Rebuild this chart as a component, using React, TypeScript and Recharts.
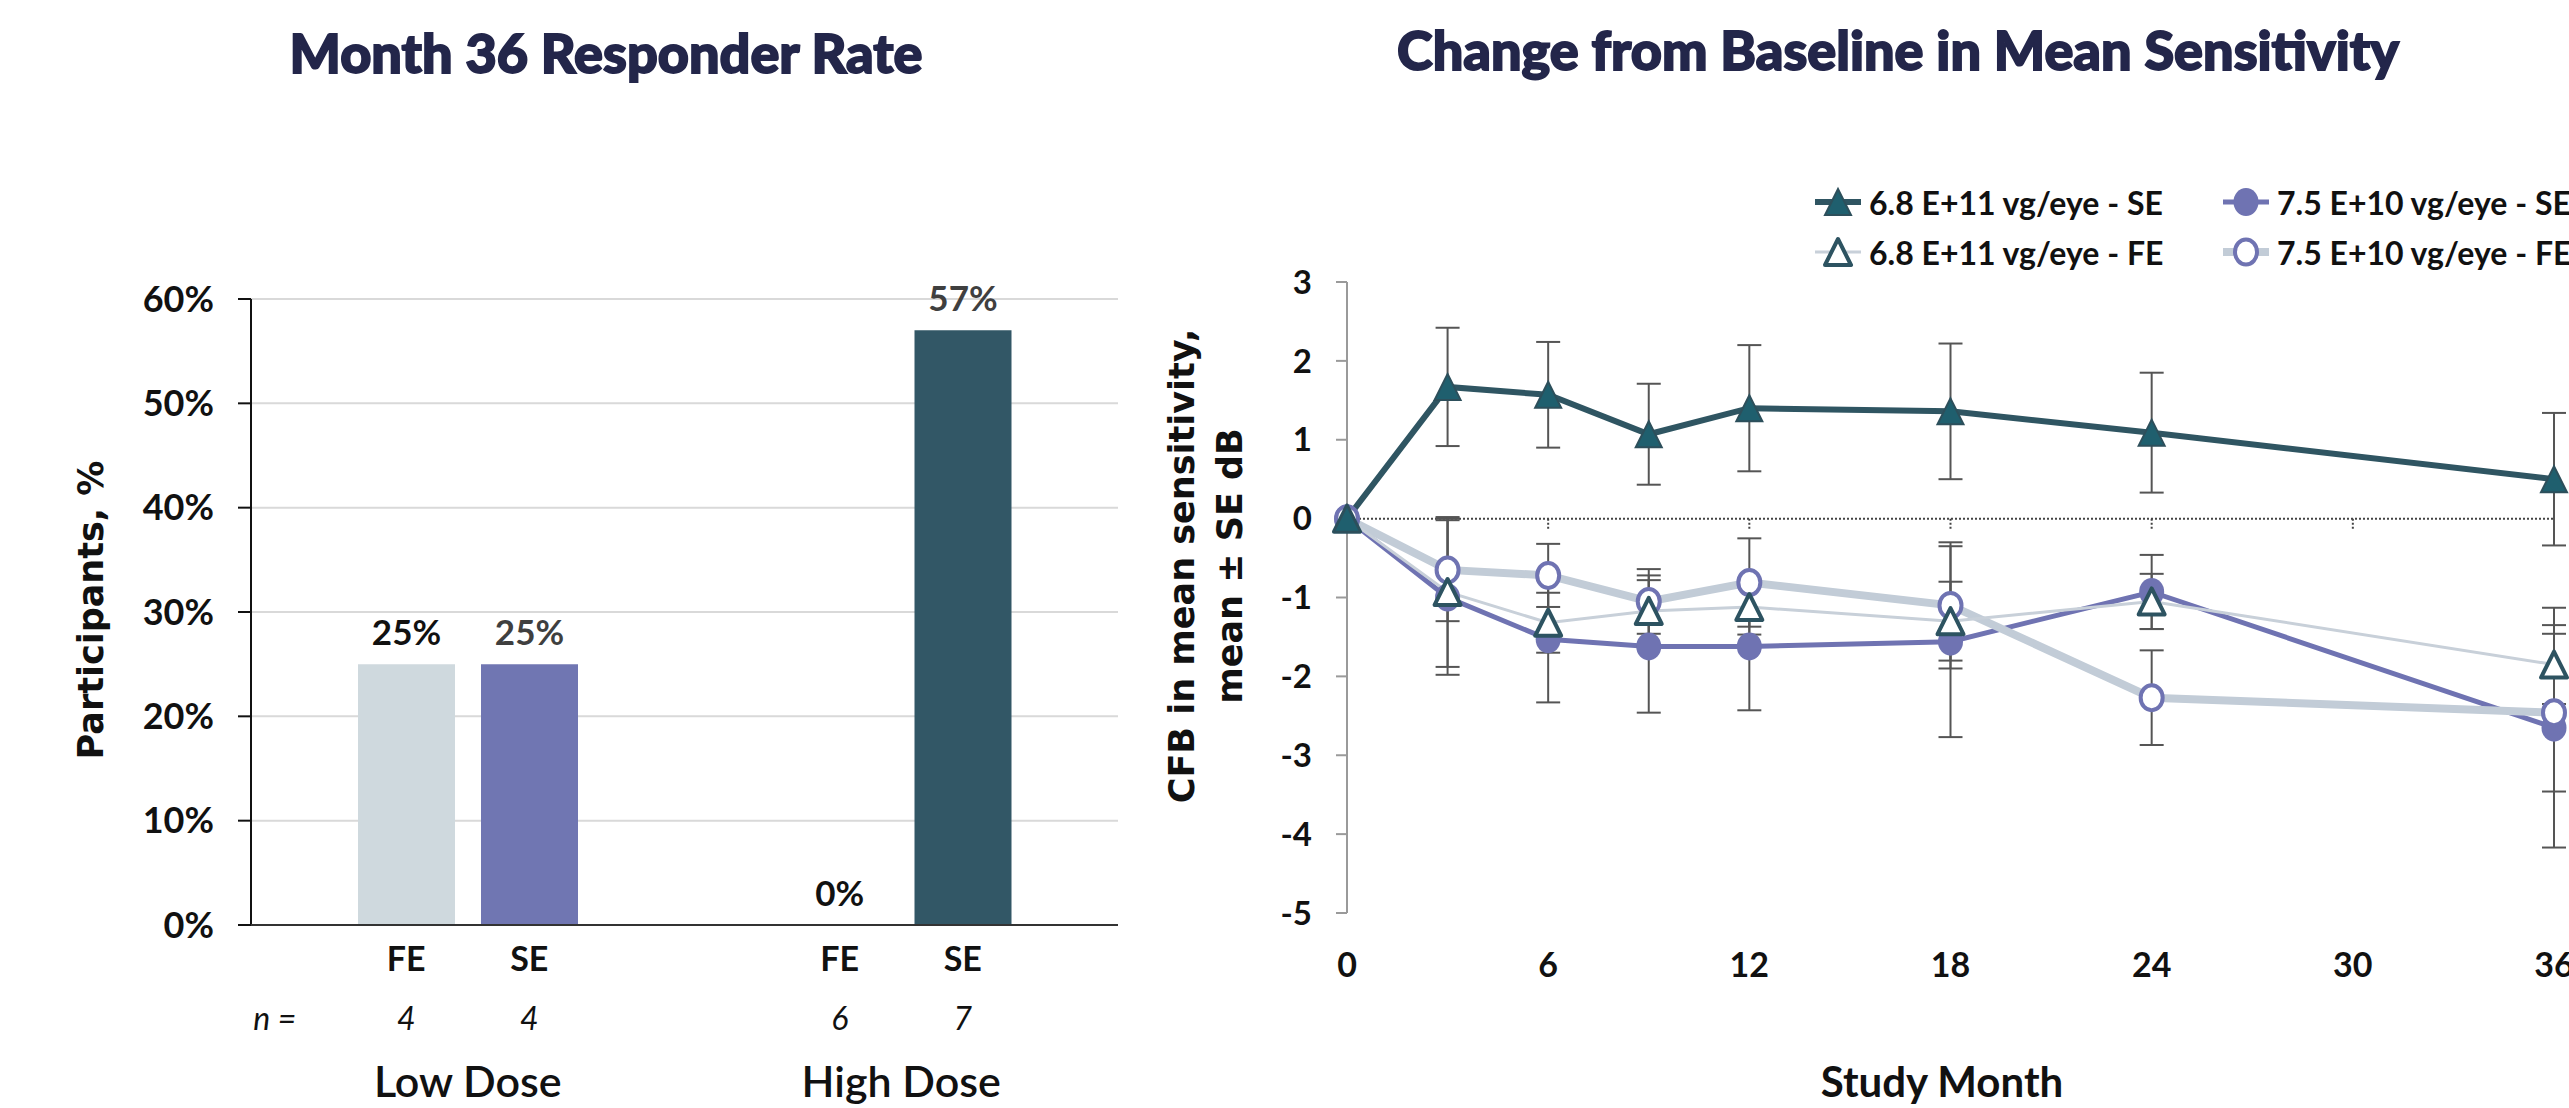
import React from "react";
import {
  BarChart,
  Bar,
  XAxis,
  YAxis,
  CartesianGrid,
  LabelList,
  Cell,
  LineChart,
  Line,
  ErrorBar,
  ReferenceLine,
  Legend,
} from "recharts";

// ---- Month 36 responder rate ----
const groups = ["Low Dose", "High Dose"];
const feRate = [25, 0];
const seRate = [25, 57];
const feN = [4, 6];
const seN = [4, 7];
const rateTicks = [0, 10, 20, 30, 40, 50, 60];

// ---- Change from baseline ----
const months = [0, 3, 6, 9, 12, 18, 24, 36];
const monthTicks = [0, 6, 12, 18, 24, 30, 36];
const cfbTicks = [-5, -4, -3, -2, -1, 0, 1, 2, 3];

const highSE = [0, 1.67, 1.57, 1.07, 1.4, 1.36, 1.09, 0.5];
const highSEErr = [null, 0.75, 0.67, 0.64, 0.8, 0.86, 0.76, 0.84];
const lowSE = [0, -1.0, -1.53, -1.62, -1.62, -1.56, -0.93, -2.65];
const lowSEErr = [null, 0.98, 0.8, 0.84, 0.81, 1.21, 0.47, 1.52];
const highFE = [0, -0.93, -1.32, -1.17, -1.12, -1.3, -1.05, -1.85];
const highFEErr = [null, 0.95, 0.38, 0.45, 0.35, 0.5, 0.35, 0.5];
const lowFE = [0, -0.65, -0.72, -1.05, -0.81, -1.1, -2.27, -2.46];
const lowFEErr = [null, 0.65, 0.4, 0.41, 0.56, 0.8, 0.6, 1.0];

const barData = groups.map((g, i) => ({
  group: g,
  fe: feRate[i],
  se: seRate[i],
  feN: feN[i],
  seN: seN[i],
}));

const lineData = months.map((m, i) => ({
  month: m,
  highSE: highSE[i],
  highSEErr: highSEErr[i],
  lowSE: lowSE[i],
  lowSEErr: lowSEErr[i],
  highFE: highFE[i],
  highFEErr: highFEErr[i],
  lowFE: lowFE[i],
  lowFEErr: lowFEErr[i],
}));

const BAR_SIZE = 97;
const BAR_GAP = 26;
const LABEL_OFFSET = 19;
const FONT = "Lato, 'Open Sans', sans-serif";
const HEAVY = "'Lato Black', Lato, sans-serif";
const WIDE = "'DejaVu Sans', Verdana, sans-serif";
const NAVY = "#23264a";

const feColors = ["#cfd9de", "#cfd9de"];
const seColors = ["#7076b2", "#325766"];

const TEAL = "#2f5562";
const PURPLE = "#6f73b2";
const GREY_THIN = "#c8d0d9";
const GREY_THICK = "#c2ccd7";

// x-axis block under each dose group: bar names, n row, group name.
// Zero-height bars get no rectangle, so their value label is drawn here on the baseline.
function GroupTick(props: any) {
  const { x, y, payload, index } = props;
  const off = (BAR_SIZE + BAR_GAP) / 2;
  const row = barData[index];
  const labelStyle = { fontSize: 35, fontWeight: 700, fontFamily: FONT };
  return (
    <g fontFamily={FONT}>
      {row.fe === 0 && (
        <text x={x - off} y={y - LABEL_OFFSET} textAnchor="middle" fill="#111" {...labelStyle}>
          {row.fe}%
        </text>
      )}
      {row.se === 0 && (
        <text x={x + off} y={y - LABEL_OFFSET} textAnchor="middle" fill="#3f3f3f" {...labelStyle}>
          {row.se}%
        </text>
      )}
      <text x={x - off} y={y + 46} textAnchor="middle" fontSize={34} fontWeight={700} fill="#111">
        FE
      </text>
      <text x={x + off} y={y + 46} textAnchor="middle" fontSize={34} fontWeight={700} fill="#111">
        SE
      </text>
      {index === 0 && (
        <text x={x - 193} y={y + 105} textAnchor="middle" fontSize={32} fontStyle="italic" fill="#111">
          n =
        </text>
      )}
      <text x={x - off} y={y + 105} textAnchor="middle" fontSize={32} fontStyle="italic" fill="#111">
        {row.feN}
      </text>
      <text x={x + off} y={y + 105} textAnchor="middle" fontSize={32} fontStyle="italic" fill="#111">
        {row.seN}
      </text>
      <text x={x} y={y + 172} textAnchor="middle" fontSize={43} fontWeight={600} fill="#111">
        {payload.value}
      </text>
    </g>
  );
}

function Triangle({ cx, cy, filled }: { cx: number; cy: number; filled: boolean }) {
  const h = 26;
  const w = 26;
  const pts = `${cx},${cy - h / 2} ${cx + w / 2},${cy + h / 2} ${cx - w / 2},${cy + h / 2}`;
  return filled ? (
    <polygon points={pts} fill="#1f5f6e" stroke="#2d4f5b" strokeWidth={2} />
  ) : (
    <polygon points={pts} fill="#fff" stroke="#2d5361" strokeWidth={4} strokeLinejoin="round" />
  );
}

function Circle({ cx, cy, filled }: { cx: number; cy: number; filled: boolean }) {
  return filled ? (
    <ellipse cx={cx} cy={cy} rx={12.5} ry={14} fill={PURPLE} />
  ) : (
    <ellipse cx={cx} cy={cy} rx={11} ry={12.5} fill="#fff" stroke={PURPLE} strokeWidth={4} />
  );
}

const seriesInfo = [
  { key: "highSE", name: "6.8 E+11 vg/eye - SE", line: TEAL, width: 6, marker: "tri", filled: true },
  { key: "lowSE", name: "7.5 E+10 vg/eye - SE", line: PURPLE, width: 5, marker: "circ", filled: true },
  { key: "highFE", name: "6.8 E+11 vg/eye - FE", line: GREY_THIN, width: 3, marker: "tri", filled: false },
  { key: "lowFE", name: "7.5 E+10 vg/eye - FE", line: GREY_THICK, width: 8, marker: "circ", filled: false },
];

function LegendBox() {
  return (
    <div
      style={{
        display: "grid",
        gridTemplateColumns: "408px 420px",
        gridAutoRows: "50px",
        fontFamily: FONT,
        fontWeight: 700,
        fontSize: 32,
        color: "#111",
      }}
    >
      {seriesInfo.map((s) => (
        <div key={s.key} style={{ display: "flex", alignItems: "center", whiteSpace: "nowrap" }}>
          <svg width={46} height={32} style={{ marginRight: 8 }}>
            <line x1={0} y1={16} x2={46} y2={16} stroke={s.line} strokeWidth={s.width} />
            {s.marker === "tri" ? (
              <Triangle cx={23} cy={16} filled={s.filled} />
            ) : (
              <Circle cx={23} cy={16} filled={s.filled} />
            )}
          </svg>
          <span>{s.name}</span>
        </div>
      ))}
    </div>
  );
}

export default function App() {
  return (
    <div
      style={{
        position: "absolute",
        left: 0,
        top: 0,
        width: 2569,
        height: 1108,
        overflow: "hidden",
        background: "#fff",
      }}
    >
      <div style={{ position: "absolute", left: 0, top: 0 }}>
        <BarChart
          width={1150}
          height={1108}
          data={barData}
          margin={{ top: 299, right: 32, bottom: 0, left: 0 }}
          barSize={BAR_SIZE}
          barGap={BAR_GAP}
        >
          <CartesianGrid vertical={false} stroke="#d9d9d9" strokeWidth={2} />
          <YAxis
            width={251}
            domain={[0, 60]}
            ticks={rateTicks}
            tickFormatter={(v: number) => `${v}%`}
            axisLine={{ stroke: "#111", strokeWidth: 2 }}
            tickLine={{ stroke: "#111", strokeWidth: 2 }}
            tickSize={13}
            tickMargin={24}
            tick={{ fontSize: 36, fontWeight: 700, fill: "#111", fontFamily: FONT }}
          />
          <XAxis
            dataKey="group"
            height={183}
            axisLine={{ stroke: "#333", strokeWidth: 2 }}
            tickLine={false}
            tickSize={0}
            tickMargin={0}
            tick={<GroupTick />}
          />
          <Bar dataKey="fe" isAnimationActive={false}>
            {barData.map((d, i) => (
              <Cell key={d.group} fill={feColors[i]} />
            ))}
            <LabelList
              dataKey="fe"
              position="top"
              offset={LABEL_OFFSET}
              formatter={(v: number) => `${v}%`}
              fill="#111"
              fontSize={35}
              fontWeight={700}
              fontFamily={FONT}
            />
          </Bar>
          <Bar dataKey="se" isAnimationActive={false}>
            {barData.map((d, i) => (
              <Cell key={d.group} fill={seColors[i]} />
            ))}
            <LabelList
              dataKey="se"
              position="top"
              offset={LABEL_OFFSET}
              formatter={(v: number) => `${v}%`}
              fill="#3f3f3f"
              fontSize={35}
              fontWeight={700}
              fontFamily={FONT}
            />
          </Bar>
        </BarChart>
      </div>

      <div style={{ position: "absolute", left: 1150, top: 0 }}>
        <LineChart
          width={1444}
          height={1108}
          data={lineData}
          margin={{ top: 282, right: 40, bottom: 0, left: 0 }}
        >
          <YAxis
            width={197}
            domain={[-5, 3]}
            ticks={cfbTicks}
            axisLine={{ stroke: "#9a9a9a", strokeWidth: 2 }}
            tickLine={{ stroke: "#9a9a9a", strokeWidth: 2 }}
            tickSize={11}
            tickMargin={24}
            tick={{ fontSize: 33, fontWeight: 700, fill: "#111", fontFamily: FONT }}
          />
          <XAxis
            dataKey="month"
            type="number"
            domain={[0, 36]}
            ticks={monthTicks}
            height={195}
            axisLine={false}
            tickLine={false}
            tickSize={0}
            tickMargin={40}
            tick={{ fontSize: 34, fontWeight: 700, fill: "#111", fontFamily: FONT }}
          />
          <ReferenceLine y={0} stroke="#444" strokeWidth={2} strokeDasharray="2 2" />
          {monthTicks.slice(1).map((m) => (
            <ReferenceLine
              key={m}
              segment={[
                { x: m, y: 0 },
                { x: m, y: -0.13 },
              ]}
              stroke="#444"
              strokeWidth={2}
              strokeDasharray="2 2"
            />
          ))}
          <Legend
            layout="horizontal"
            align="center"
            verticalAlign="middle"
            content={<LegendBox />}
            wrapperStyle={{ top: 177, left: 665, width: 900, height: 100 }}
          />
          <Line
            dataKey="lowSE"
            name="7.5 E+10 vg/eye - SE"
            stroke={PURPLE}
            strokeWidth={5}
            isAnimationActive={false}
            dot={(p: any) => <Circle key={p.index} cx={p.cx} cy={p.cy} filled />}
            activeDot={false}
          >
            <ErrorBar dataKey="lowSEErr" direction="y" width={12} stroke="#555" strokeWidth={2} isAnimationActive={false} />
          </Line>
          <Line
            dataKey="lowFE"
            name="7.5 E+10 vg/eye - FE"
            stroke={GREY_THICK}
            strokeWidth={8}
            isAnimationActive={false}
            dot={(p: any) => <Circle key={p.index} cx={p.cx} cy={p.cy} filled={false} />}
            activeDot={false}
          >
            <ErrorBar dataKey="lowFEErr" direction="y" width={12} stroke="#555" strokeWidth={2} isAnimationActive={false} />
          </Line>
          <Line
            dataKey="highFE"
            name="6.8 E+11 vg/eye - FE"
            stroke={GREY_THIN}
            strokeWidth={3}
            isAnimationActive={false}
            dot={(p: any) => <Triangle key={p.index} cx={p.cx} cy={p.cy} filled={false} />}
            activeDot={false}
          >
            <ErrorBar dataKey="highFEErr" direction="y" width={12} stroke="#555" strokeWidth={2} isAnimationActive={false} />
          </Line>
          <Line
            dataKey="highSE"
            name="6.8 E+11 vg/eye - SE"
            stroke={TEAL}
            strokeWidth={6}
            isAnimationActive={false}
            dot={(p: any) => <Triangle key={p.index} cx={p.cx} cy={p.cy} filled />}
            activeDot={false}
          >
            <ErrorBar dataKey="highSEErr" direction="y" width={12} stroke="#555" strokeWidth={2} isAnimationActive={false} />
          </Line>
        </LineChart>
      </div>

      <svg
        width={2569}
        height={1108}
        style={{ position: "absolute", left: 0, top: 0, pointerEvents: "none" }}
      >
        {/* titles get a thin outline of their own colour to reach the heavy weight of the original */}
        <text
          x={606}
          y={73}
          textAnchor="middle"
          fontFamily={HEAVY}
          fontWeight={900}
          fontSize={54}
          fill={NAVY}
          stroke={NAVY}
          strokeWidth={1.8}
        >
          Month 36 Responder Rate
        </text>
        <text
          x={1898}
          y={70}
          textAnchor="middle"
          fontFamily={HEAVY}
          fontWeight={900}
          fontSize={54}
          fill={NAVY}
          stroke={NAVY}
          strokeWidth={1.8}
        >
          Change from Baseline in Mean Sensitivity
        </text>
        <text
          x={91}
          y={610}
          transform="rotate(-90 91 610)"
          textAnchor="middle"
          dominantBaseline="central"
          fontFamily={WIDE}
          fontWeight={700}
          fontSize={35}
          fill="#111"
        >
          Participants, %
        </text>
        <text
          x={1182}
          y={566}
          transform="rotate(-90 1182 566)"
          textAnchor="middle"
          dominantBaseline="central"
          fontFamily={WIDE}
          fontWeight={700}
          fontSize={35}
          fill="#111"
        >
          CFB in mean sensitivity,
        </text>
        <text
          x={1230}
          y={566}
          transform="rotate(-90 1230 566)"
          textAnchor="middle"
          dominantBaseline="central"
          fontFamily={WIDE}
          fontWeight={700}
          fontSize={35}
          fill="#111"
        >
          mean ± SE dB
        </text>
        <text x={1942} y={1097} textAnchor="middle" fontFamily={FONT} fontWeight={700} fontSize={42} fill="#111">
          Study Month
        </text>
      </svg>
    </div>
  );
}
